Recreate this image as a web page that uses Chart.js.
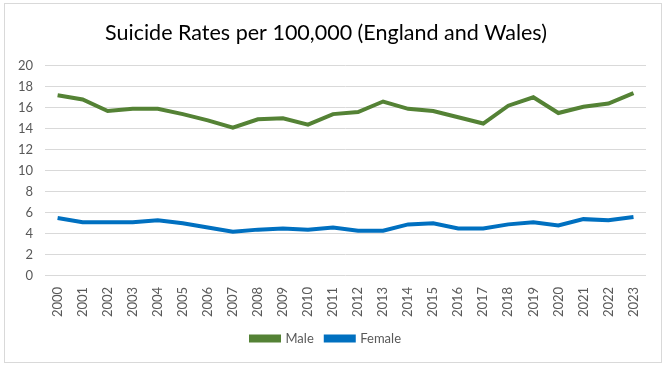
<!DOCTYPE html>
<html lang="en">
<head>
  <meta charset="UTF-8">
  <title>Suicide Rates</title>
  <script src="https://cdn.jsdelivr.net/npm/chart.js"></script>
  <style>
    html, body { margin: 0; padding: 0; background: #fff; }
    #wrap {
      position: absolute; left: 4px; top: 3px;
      width: 658px; height: 360px;
      border: 1px solid #d9d9d9; box-sizing: border-box;
    }
  </style>
</head>
<body>
  <div id="wrap"><canvas id="chart" width="656" height="358"></canvas></div>

  <script>
    const years = ['2000', '2001', '2002', '2003', '2004', '2005', '2006', '2007', '2008', '2009', '2010', '2011',
                   '2012', '2013', '2014', '2015', '2016', '2017', '2018', '2019', '2020', '2021', '2022', '2023'];
    const male = [17.2, 16.8, 15.7, 15.9, 15.9, 15.4, 14.8, 14.1, 14.9, 15.0, 14.4, 15.4,
                  15.6, 16.6, 15.9, 15.7, 15.1, 14.5, 16.2, 17.0, 15.5, 16.1, 16.4, 17.4];
    const female = [5.5, 5.1, 5.1, 5.1, 5.3, 5.0, 4.6, 4.2, 4.4, 4.5, 4.4, 4.6,
                    4.3, 4.3, 4.9, 5.0, 4.5, 4.5, 4.9, 5.1, 4.8, 5.4, 5.3, 5.6];
    const yTicks = [0, 2, 4, 6, 8, 10, 12, 14, 16, 18, 20];

    const font = "Lato, 'Open Sans', sans-serif";
    const grey = '#595959';

    new Chart(document.getElementById('chart'), {
      type: 'line',
      data: {
        labels: years,
        datasets: [
          { label: 'Male', data: male, borderColor: '#548235', backgroundColor: '#548235',
            borderWidth: 4, pointRadius: 0, tension: 0 },
          { label: 'Female', data: female, borderColor: '#0070C0', backgroundColor: '#0070C0',
            borderWidth: 4, pointRadius: 0, tension: 0 }
        ]
      },
      options: {
        responsive: false,
        animation: false,
        layout: { padding: { left: 1, right: 15, top: 0, bottom: 7 } },
        plugins: {
          title: {
            display: true,
            text: 'Suicide Rates per 100,000 (England and Wales)',
            color: '#000',
            font: { family: font, size: 21.5, weight: 'normal' },
            padding: { top: 16, bottom: 20 }
          },
          legend: {
            position: 'bottom',
            labels: {
              color: grey,
              font: { family: font, size: 13 },
              boxWidth: 28,
              boxHeight: 4,
              padding: 12
            }
          },
          tooltip: { enabled: false }
        },
        scales: {
          x: {
            offset: true,
            grid: { display: false },
            border: { display: false },
            ticks: { color: grey, font: { family: font, size: 13 }, minRotation: 90, maxRotation: 90 }
          },
          y: {
            min: 0,
            max: 20,
            afterBuildTicks: axis => { axis.ticks = yTicks.map(v => ({ value: v })); },
            grid: { color: '#d9d9d9', drawTicks: false },
            border: { display: false },
            ticks: { color: grey, font: { family: font, size: 13 }, padding: 12 }
          }
        }
      }
    });
  </script>
</body>
</html>
